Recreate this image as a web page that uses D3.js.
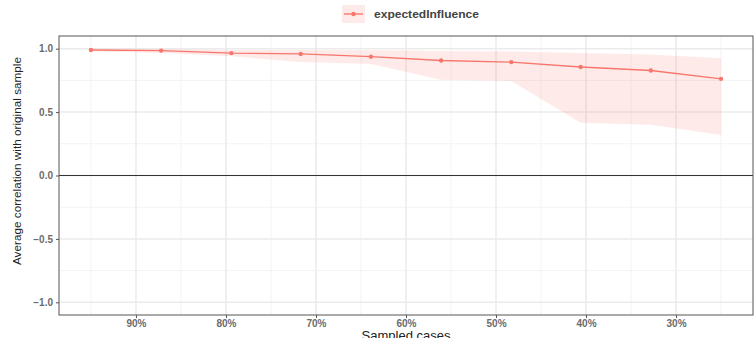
<!DOCTYPE html>
<html>
<head>
  <meta charset="utf-8">
  <style>
    body { margin: 0; background: #fff; }
    svg { display: block; font-family: "Liberation Sans", Arial, sans-serif; }
  </style>
  <script src="https://cdn.jsdelivr.net/npm/d3@7"></script>
</head>
<body>
  <div id="chart"></div>
  <script>

var cases = [0.95, 0.872, 0.794, 0.717, 0.639, 0.561, 0.483, 0.406, 0.328, 0.25];
var meanCor = [0.99, 0.985, 0.965, 0.959, 0.937, 0.907, 0.894, 0.855, 0.828, 0.762];
var upperCor = [1.0, 0.998, 0.99, 0.99, 0.988, 0.982, 0.978, 0.965, 0.955, 0.925];
var lowerCor = [0.98, 0.965, 0.94, 0.895, 0.88, 0.755, 0.745, 0.415, 0.40, 0.32];
var xTicks = [0.9, 0.8, 0.7, 0.6, 0.5, 0.4, 0.3];
var xMinor = [0.95, 0.85, 0.75, 0.65, 0.55, 0.45, 0.35, 0.25];
var yTicks = [-1, -0.5, 0, 0.5, 1];
var yMinor = [-0.75, -0.25, 0.25, 0.75];
var seriesName = "expectedInfluence";

var width = 755, height = 338;
var margin = {left: 59, right: 2, top: 36, bottom: 23};
var col = "#F8766D";

var svg = d3.select("#chart").append("svg")
  .attr("width", width)
  .attr("height", height);

// x is reversed: 95% on the left
var x = d3.scaleLinear()
  .domain([0.9855, 0.2145])
  .range([margin.left, width - margin.right]);

var y = d3.scaleLinear()
  .domain([-1.1, 1.1])
  .range([height - margin.bottom, margin.top]);

var data = cases.map(function(c, i) {
  return {c: c, m: meanCor[i], lo: lowerCor[i], hi: upperCor[i]};
});

var g = svg.append("g");

// grid
g.selectAll(".ymin").data(yMinor).enter().append("line")
  .attr("x1", margin.left).attr("x2", width - margin.right)
  .attr("y1", y).attr("y2", y)
  .attr("stroke", "#f3f3f3").attr("stroke-width", 1);
g.selectAll(".xmin").data(xMinor).enter().append("line")
  .attr("y1", margin.top).attr("y2", height - margin.bottom)
  .attr("x1", x).attr("x2", x)
  .attr("stroke", "#f3f3f3").attr("stroke-width", 1);
g.selectAll(".ymaj").data(yTicks).enter().append("line")
  .attr("x1", margin.left).attr("x2", width - margin.right)
  .attr("y1", y).attr("y2", y)
  .attr("stroke", "#ebebeb").attr("stroke-width", 1.5);
g.selectAll(".xmaj").data(xTicks).enter().append("line")
  .attr("y1", margin.top).attr("y2", height - margin.bottom)
  .attr("x1", x).attr("x2", x)
  .attr("stroke", "#ebebeb").attr("stroke-width", 1.5);

// zero line
g.append("line")
  .attr("x1", margin.left).attr("x2", width - margin.right)
  .attr("y1", y(0)).attr("y2", y(0))
  .attr("stroke", "#333").attr("stroke-width", 1);

// ribbon
var area = d3.area()
  .x(function(d) { return x(d.c); })
  .y0(function(d) { return y(d.lo); })
  .y1(function(d) { return y(d.hi); });
g.append("path").datum(data)
  .attr("d", area)
  .attr("fill", col).attr("fill-opacity", 0.15);

var line = d3.line()
  .x(function(d) { return x(d.c); })
  .y(function(d) { return y(d.m); });
g.append("path").datum(data)
  .attr("d", line)
  .attr("fill", "none").attr("stroke", col).attr("stroke-width", 1.4);

g.selectAll(".pt").data(data).enter().append("circle")
  .attr("cx", function(d) { return x(d.c); })
  .attr("cy", function(d) { return y(d.m); })
  .attr("r", 2.2).attr("fill", col);

// panel border
svg.append("rect")
  .attr("x", margin.left).attr("y", margin.top)
  .attr("width", width - margin.right - margin.left)
  .attr("height", height - margin.bottom - margin.top)
  .attr("fill", "none").attr("stroke", "#555").attr("stroke-width", 1);

// axes
var xAxis = svg.append("g")
  .attr("transform", "translate(0," + (height - margin.bottom) + ")")
  .call(d3.axisBottom(x).tickValues(xTicks).tickSize(3).tickPadding(2)
    .tickFormat(function(d) { return Math.round(d * 100) + "%"; }));
var yAxis = svg.append("g")
  .attr("transform", "translate(" + margin.left + ",0)")
  .call(d3.axisLeft(y).tickValues(yTicks).tickSize(3).tickPadding(3)
    .tickFormat(d3.format(".1f")));
[xAxis, yAxis].forEach(function(a) {
  a.select(".domain").remove();
  a.selectAll(".tick line").attr("stroke", "#555");
  a.selectAll(".tick text").attr("fill", "#6b6b6b")
    .style("font-size", "10px").style("font-weight", "bold")
    .style("font-family", "'Liberation Sans', Arial, sans-serif");
});

// axis titles
svg.append("text")
  .attr("transform", "translate(21," + 161 + ") rotate(-90)")
  .attr("text-anchor", "middle")
  .attr("textLength", 208).attr("lengthAdjust", "spacingAndGlyphs")
  .style("font-size", "11.5px").attr("fill", "#222")
  .text("Average correlation with original sample");

// the reference crops this title at the bottom edge
svg.append("text")
  .attr("x", (margin.left + width - margin.right) / 2)
  .attr("y", 340)
  .attr("text-anchor", "middle")
  .style("font-size", "13px").attr("fill", "#222")
  .text("Sampled cases");

// legend
var lg = svg.append("g").attr("transform", "translate(342,5)");
lg.append("rect").attr("width", 23).attr("height", 18)
  .attr("fill", col).attr("fill-opacity", 0.15);
lg.append("line").attr("x1", 2).attr("x2", 21).attr("y1", 9).attr("y2", 9)
  .attr("stroke", col).attr("stroke-width", 1.4);
lg.append("circle").attr("cx", 11.5).attr("cy", 9).attr("r", 2.2).attr("fill", col);
lg.append("text").attr("x", 32).attr("y", 13)
  .attr("textLength", 105).attr("lengthAdjust", "spacingAndGlyphs")
  .style("font-size", "10.5px").style("font-weight", "bold").attr("fill", "#444")
  .text(seriesName);

  </script>
</body>
</html>
